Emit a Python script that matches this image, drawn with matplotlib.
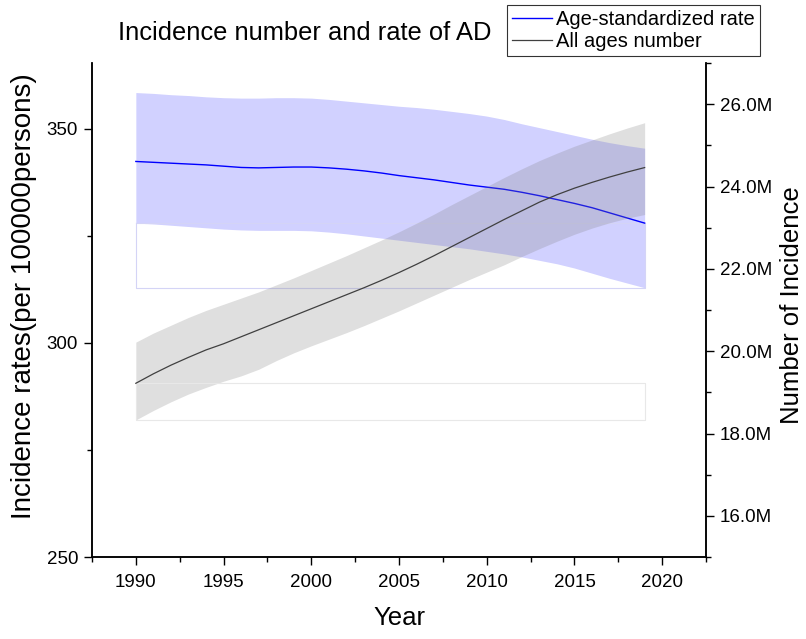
import numpy as np
import matplotlib.pyplot as plt
from matplotlib.ticker import MultipleLocator, FuncFormatter

plt.rcParams['font.family'] = ['Liberation Sans', 'DejaVu Sans']

# Data
years = list(range(1990, 2020))

# age-standardized incidence rate (per 100000 persons) with uncertainty band
asr_val = [342.4, 342.2, 342.0, 341.8, 341.6, 341.3, 341.0, 340.9, 341.0, 341.1,
           341.1, 340.9, 340.6, 340.2, 339.7, 339.1, 338.6, 338.1, 337.5, 336.9,
           336.4, 335.9, 335.2, 334.4, 333.5, 332.6, 331.6, 330.4, 329.2, 328.0]
asr_upper = [358.5, 358.3, 358.0, 357.8, 357.5, 357.3, 357.2, 357.2, 357.3, 357.3,
             357.2, 356.9, 356.5, 356.1, 355.7, 355.3, 355.0, 354.6, 354.1, 353.6,
             353.0, 352.2, 351.2, 350.3, 349.4, 348.5, 347.6, 346.8, 346.1, 345.5]
asr_lower = [328.0, 327.8, 327.5, 327.2, 326.9, 326.6, 326.4, 326.3, 326.3, 326.3,
             326.2, 325.9, 325.5, 325.0, 324.5, 324.0, 323.5, 323.0, 322.5, 322.0,
             321.4, 320.8, 320.1, 319.3, 318.5, 317.5, 316.3, 315.1, 314.0, 312.9]

# all ages incidence number (millions) with uncertainty band
num_val = [19.22, 19.45, 19.66, 19.85, 20.03, 20.18, 20.35, 20.52, 20.69, 20.86,
           21.03, 21.20, 21.37, 21.54, 21.72, 21.91, 22.11, 22.32, 22.54, 22.76,
           22.98, 23.20, 23.41, 23.62, 23.80, 23.96, 24.10, 24.23, 24.35, 24.46]
num_upper = [20.22, 20.44, 20.63, 20.82, 20.99, 21.14, 21.29, 21.44, 21.61, 21.78,
             21.96, 22.14, 22.32, 22.51, 22.70, 22.90, 23.11, 23.33, 23.56, 23.78,
             24.00, 24.22, 24.43, 24.63, 24.81, 24.98, 25.13, 25.28, 25.42, 25.55]
num_lower = [18.33, 18.56, 18.77, 18.96, 19.12, 19.27, 19.40, 19.56, 19.77, 19.96,
             20.13, 20.29, 20.45, 20.62, 20.80, 20.98, 21.17, 21.36, 21.55, 21.74,
             21.92, 22.10, 22.30, 22.49, 22.67, 22.84, 22.99, 23.12, 23.23, 23.32]

fig = plt.figure(figsize=(8.06, 6.39), dpi=100)
ax1 = fig.add_axes([0.1141, 0.1283, 0.7619, 0.7731])
ax2 = ax1.twinx()

# rate on left axis
ax1.fill_between(years, asr_lower, asr_upper, color='#0000ff', alpha=0.18, lw=0)
# faint outline box left by the fill (as in the original)
x0, x1 = years[0], years[-1]
ax1.plot([x0, x1, x1, x0, x0],
         [asr_lower[0], asr_lower[0], asr_lower[-1], asr_lower[-1], asr_lower[0]],
         color='#d4d4f6', lw=0.8)
l1, = ax1.plot(years, asr_val, color='#0000ff', lw=1.0, label='Age-standardized rate')

# number on right axis
ax2.fill_between(years, num_lower, num_upper, color='#808080', alpha=0.25, lw=0)
ax2.plot([x0, x1, x1, x0, x0],
         [num_val[0], num_val[0], num_lower[0], num_lower[0], num_val[0]],
         color='#e8e8e8', lw=0.8)
l2, = ax2.plot(years, num_val, color='#404040', lw=0.9, label='All ages number')

ax1.set_xlim(1987.5, 2022.5)
ax1.set_ylim(250, 365.4)
ax2.set_ylim(15.0, 27.0)

ax1.xaxis.set_major_locator(MultipleLocator(5))
ax1.xaxis.set_minor_locator(MultipleLocator(2.5))
ax1.yaxis.set_major_locator(MultipleLocator(50))
ax1.yaxis.set_minor_locator(MultipleLocator(25))
ax2.yaxis.set_major_locator(MultipleLocator(2))
ax2.yaxis.set_minor_locator(MultipleLocator(1))
ax2.yaxis.set_major_formatter(FuncFormatter(lambda v, p: '%.1fM' % v))

for ax in (ax1, ax2):
    ax.spines['top'].set_visible(False)
    for s in ax.spines.values():
        s.set_linewidth(1.1)
    ax.tick_params(which='major', direction='out', length=6, width=1.0, labelsize=13.5, pad=4)
    ax.tick_params(which='minor', direction='out', length=3.5, width=1.0)
ax1.tick_params(axis='x', which='major', pad=6)

ax1.set_xlabel('Year', fontsize=18.5)
ax1.xaxis.set_label_coords(0.5, -0.1)
ax1.set_ylabel('Incidence rates(per 100000persons)', fontsize=20)
ax1.yaxis.set_label_coords(-0.09, 0.528)
ax2.set_ylabel('Number of Incidence', fontsize=18.5)
ax2.yaxis.set_label_coords(1.12, 0.51)

fig.text(305 / 806, 1 - 33 / 639, 'Incidence number and rate of AD',
         fontsize=18.4, ha='center', va='center')

leg = fig.legend(handles=[l1, l2], loc='upper left', bbox_to_anchor=(507 / 806, 1 - 5 / 639),
                 fontsize=14.5, frameon=True, fancybox=False, edgecolor='black',
                 handlelength=2.0, handletextpad=0.2, labelspacing=0.15,
                 borderpad=0.25, borderaxespad=0)
leg.get_frame().set_linewidth(0.8)

fig.savefig('out.png', dpi=100)
